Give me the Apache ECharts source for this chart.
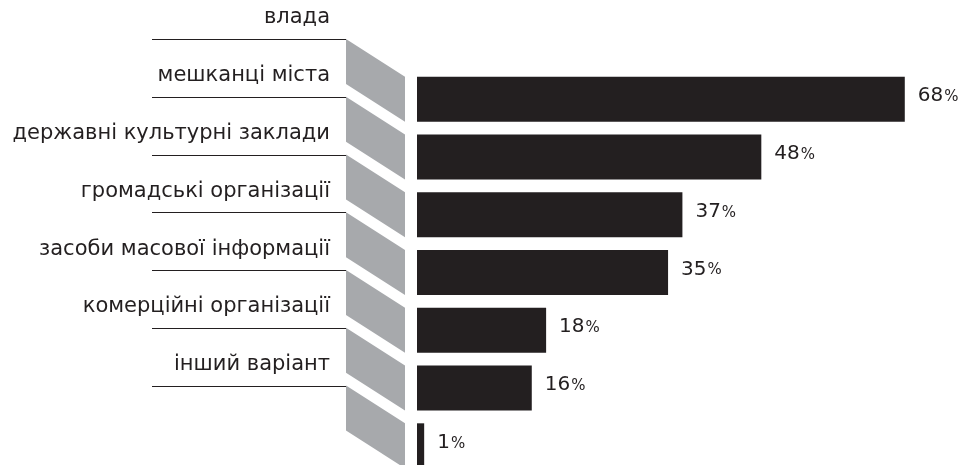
<!DOCTYPE html>
<html>
<head>
<meta charset="utf-8">
<script src="https://cdn.jsdelivr.net/npm/echarts@6/dist/echarts.min.js"></script>
<style>
  html, body { margin: 0; padding: 0; background: #fff; }
  #chart { width: 968px; height: 465px; }
</style>
</head>
<body>
<div id="chart"></div>
<script>
// категорії (зверху вниз)
const categories = [
  'влада',
  'мешканці міста',
  'державні культурні заклади',
  'громадські організації',
  'засоби масової інформації',
  'комерційні організації',
  'інший варіант'
]
// відсотки
const values = [68, 48, 37, 35, 18, 16, 1]

const FONT = '"DejaVu Sans", "Open Sans", sans-serif'
const DARK = '#231f20'
const GREY = '#a7a9ac'
const BAR_H = 45

const chart = echarts.init(document.getElementById('chart'))

const option = {
  animation: false,
  grid: {
    left: 417, right: 13, top: 70.3, height: 404.4,
    containLabel: false,
    outerBoundsMode: 'none'
  },
  xAxis: {
    type: 'value',
    min: 0,
    max: 75,
    show: false
  },
  yAxis: {
    type: 'category',
    data: categories,
    inverse: true,
    show: false
  },
  series: [
    {
      // сірі "стрічки", лінії та підписи зліва
      type: 'custom',
      clip: false,
      data: categories.map((c, i) => i),
      renderItem: function (params, api) {
        const idx = api.value(0)
        const p = api.coord([0, idx])
        const x0 = p[0]
        const barTop = p[1] - BAR_H / 2
        const lineY = barTop - 37.7
        const ly = Math.round(lineY) + 0.5   // чітка лінія 1px
        return {
          type: 'group',
          children: [
            {
              type: 'polygon',
              shape: {
                points: [
                  [x0 - 71, lineY],
                  [x0 - 12, barTop],
                  [x0 - 12, barTop + BAR_H],
                  [x0 - 71, lineY + BAR_H]
                ]
              },
              style: { fill: GREY }
            },
            {
              type: 'line',
              shape: { x1: x0 - 265, y1: ly, x2: x0 - 71, y2: ly },
              style: { stroke: DARK, lineWidth: 1 }
            },
            {
              type: 'text',
              style: {
                text: categories[idx],
                x: x0 - 87,
                y: lineY - 21,
                align: 'right',
                verticalAlign: 'middle',
                fill: DARK,
                font: '21px ' + FONT
              }
            }
          ]
        }
      }
    },
    {
      type: 'bar',
      data: values,
      barWidth: BAR_H,
      itemStyle: { color: DARK },
      label: {
        show: true,
        position: 'right',
        distance: 13,
        offset: [0, -3],
        formatter: function (p) { return '{n|' + p.value + '}{p|%}' },
        rich: {
          n: { fontFamily: FONT, fontSize: 20, color: DARK },
          p: { fontFamily: FONT, fontSize: 15, color: DARK, padding: [2, 0, 0, 1] }
        }
      }
    }
  ]
}

chart.setOption(option)
</script>
</body>
</html>
